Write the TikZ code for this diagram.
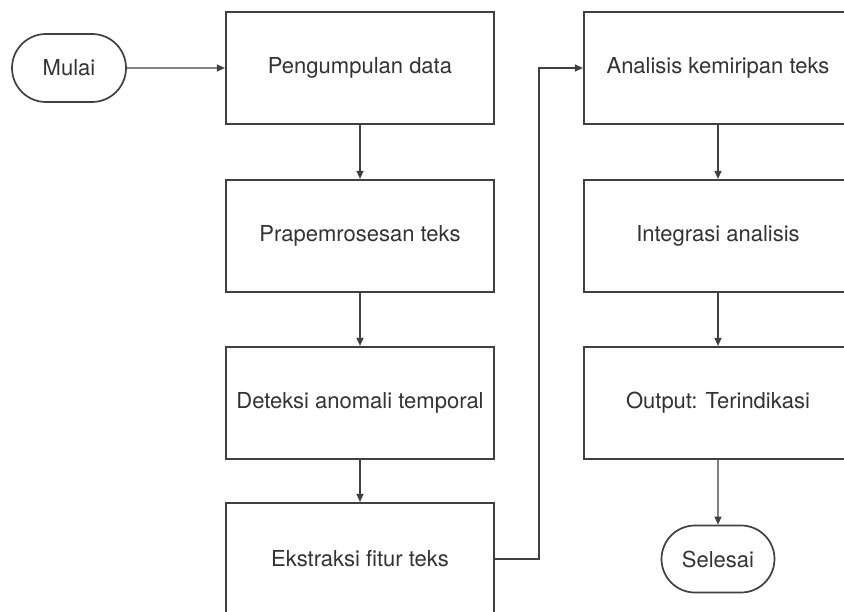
\documentclass[tikz,border=0pt]{standalone}
\usepackage{fontspec}
\setmainfont{TeX Gyre Heros}
\usetikzlibrary{arrows.meta,shapes.misc}
\begin{document}
\begin{tikzpicture}[x=1bp,y=-1bp,
  every node/.style={font=\fontsize{22bp}{26bp}\selectfont, text=black!80},
  procbox/.style={draw=black!75, line width=2.2bp, fill=white, minimum width=268bp, minimum height=112bp, inner sep=0pt},
  termnode/.style={draw=black!75, line width=1.7bp, rounded rectangle, minimum width=114bp, minimum height=68bp, inner sep=0pt},
  conn/.style={draw=black!75, line width=1.3bp, -{Triangle[length=8bp,width=7bp]}}]
\useasboundingbox (0,0) rectangle (844,612);
\clip (0,0) rectangle (844,612);
\fill[white] (0,0) rectangle (844,612);
\node[termnode] (start) at (69,68) {Mulai};
\node[procbox] (b1) at (360,68) {Pengumpulan data};
\node[procbox] (b2) at (360,236) {Prapemrosesan teks};
\node[procbox] (b3) at (360,403) {Deteksi anomali temporal};
\node[procbox] (b4) at (360,559) {Ekstraksi fitur teks};
\node[procbox] (r1) at (718,68) {Analisis kemiripan teks};
\node[procbox] (r2) at (718,236) {Integrasi analisis};
\node[procbox] (r3) at (718,403) {Output: Terindikasi};
\node[termnode, minimum width=113bp, minimum height=67bp] (end) at (718,559) {Selesai};
\draw[conn] (start) -- (b1);
\draw[conn] (b1) -- (b2);
\draw[conn] (b2) -- (b3);
\draw[conn] (b3) -- (b4);
\draw[conn] (b4.east) -- ++(44,0) |- (r1.west);
\draw[conn] (r1) -- (r2);
\draw[conn] (r2) -- (r3);
\draw[conn] (r3) -- (end);
\end{tikzpicture}
\end{document}
